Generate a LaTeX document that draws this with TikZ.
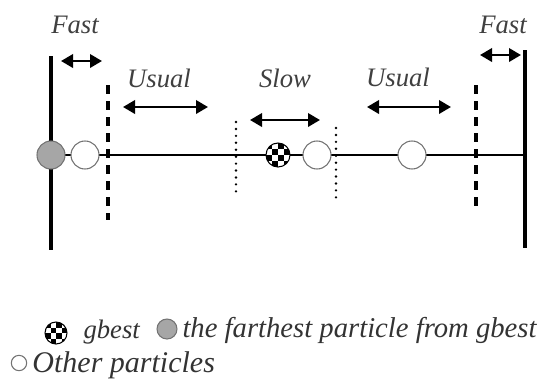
\documentclass[tikz,border=0pt]{standalone}
\usepackage{fontspec}
\setmainfont{Liberation Serif}
\usetikzlibrary{arrows.meta}

\tikzset{every picture/.style={line width=0.75pt}}
\tikzset{
  wall/.style={line width=2.3pt},
  zoneline/.style={line width=2.6pt, dash pattern={on 7pt off 5pt}},
  slowline/.style={line width=2pt, line cap=round, dash pattern={on 0pt off 5.2pt}},
  speedarrow/.style={line width=1.9pt, {Triangle[length=9pt,width=10pt]}-{Triangle[length=9pt,width=10pt]}},
  particle/.style={circle, draw=black!55, line width=0.8pt, fill=white, inner sep=0pt, minimum size=21pt},
  farthest/.style={particle, fill=black!35},
  speedlabel/.style={text=black!75, font=\fontsize{20}{24}\selectfont\itshape, inner sep=0.75pt},
  legendtext/.style={text=black!80, font=\fontsize{21.5}{25}\selectfont\itshape, inner sep=0pt, anchor=base west},
}

% black squares of a 4x4 board, clipped to a disc
\newcommand{\checkerfill}[3]{%
  \begin{scope}
    \clip (#1,#2) circle (#3);
    \foreach \i/\j in {0/0,0/2,1/1,1/3,2/0,2/2,3/1,3/3}
      \fill ({#1-#3+\i*#3/2},{#2-#3+\j*#3/2}) rectangle ++({#3/2},{#3/2});
  \end{scope}}

\begin{document}
\begin{tikzpicture}[x=0.75pt,y=0.75pt,yscale=-1,xscale=1]
\useasboundingbox (0,0) rectangle (540,380);

%Walls
\coordinate (wallL-top) at (51,56);
\coordinate (wallL-bot) at (51,250);
\coordinate (wallR-top) at (525,50);
\coordinate (wallR-bot) at (525,248);
\draw [wall] (wallL-top) -- (wallL-bot) ;
\draw [wall, line width=3.4pt] (wallR-top) -- (wallR-bot) ;
%Axis
\coordinate (axisL) at (51,155);
\coordinate (axisR) at (525,155);
\draw [line width=1.1pt] (axisL) -- (axisR) ;
%Dashed bounds
\coordinate (dashL-top) at (108,85);
\coordinate (dashL-bot) at (108,220);
\coordinate (dashR-top) at (476,85);
\coordinate (dashR-bot) at (476,212);
\draw [zoneline] (dashL-top) -- (dashL-bot) ;
\draw [zoneline] (dashR-top) -- (dashR-bot) ;
%Dotted bounds
\coordinate (dotL-top) at (236,122);
\coordinate (dotL-bot) at (236,194);
\coordinate (dotR-top) at (336,128);
\coordinate (dotR-bot) at (336,199);
\draw [slowline] (dotL-top) -- (dotL-bot) ;
\draw [slowline] (dotR-top) -- (dotR-bot) ;

%Particles
\node [farthest] (far) at (51,155) {};
\node [particle] (pA) at (85,155) {};
\node [particle, draw=black, minimum size=18pt] (gbest) at (278,155) {};
\checkerfill{278}{155}{12}
\node [particle] (pB) at (317,155) {};
\node [particle] (pC) at (412,155) {};

%Speed arrows
\coordinate (fastL-a) at (61,61);
\coordinate (fastL-b) at (102,61);
\coordinate (usualL-a) at (123,107);
\coordinate (usualL-b) at (208,107);
\coordinate (slow-a) at (250,120);
\coordinate (slow-b) at (320,120);
\coordinate (usualR-a) at (367,107);
\coordinate (usualR-b) at (451,107);
\coordinate (fastR-a) at (480,55);
\coordinate (fastR-b) at (521,55);
\draw [speedarrow] (fastL-a) -- (fastL-b) ;
\draw [speedarrow] (usualL-a) -- (usualL-b) ;
\draw [speedarrow] (slow-a) -- (slow-b) ;
\draw [speedarrow] (usualR-a) -- (usualR-b) ;
\draw [speedarrow] (fastR-a) -- (fastR-b) ;

% Text Node
\node [speedlabel] (fastL) at (75,25) {Fast};
% Text Node
\node [speedlabel] (usualL) at (159,78) {Usual};
% Text Node
\node [speedlabel] (slow) at (285,78) {Slow};
% Text Node
\node [speedlabel] (usualR) at (398,77) {Usual};
% Text Node
\node [speedlabel] (fastR) at (503,25) {Fast};

%Legend
\node [particle, draw=black, minimum size=16.5pt] (key-gbest) at (56,333) {};
\checkerfill{56}{333}{11}
\node [farthest, minimum size=15pt] (key-far) at (167,329) {};
\node [particle, minimum size=11.5pt] (key-other) at (19,363) {};
% Text Node
\node [legendtext, font=\fontsize{20}{24}\selectfont\itshape] (txt-gbest) at (83,338) {gbest};
% Text Node
\node [legendtext] (txt-far) at (182,337) {the farthest particle from gbest};
% Text Node
\node [legendtext, font=\fontsize{22.5}{26}\selectfont\itshape] (txt-other) at (32,372) {Other particles};

\end{tikzpicture}
\end{document}
